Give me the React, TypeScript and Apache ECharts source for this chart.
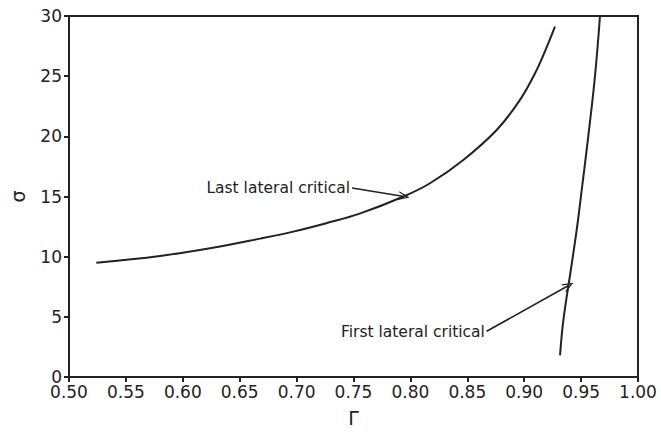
import React, { useEffect, useRef } from "react";
import * as echarts from "echarts";

// Last lateral critical curve (Γ, σ)
const lastGamma = [0.524, 0.58, 0.624, 0.668, 0.697, 0.726, 0.756, 0.794, 0.8172, 0.8465, 0.8758, 0.8963, 0.911, 0.9212, 0.927];
const lastSigma = [9.5, 10.06, 10.7, 11.5, 12.08, 12.78, 13.6, 15.0, 16.1, 18.04, 20.53, 23.03, 25.52, 27.74, 29.12];

// First lateral critical curve (Γ, σ)
const firstGamma = [0.9315, 0.9344, 0.9405, 0.9461, 0.9505, 0.9563, 0.9622, 0.9666];
const firstSigma = [1.8, 4.7, 8.6, 12.2, 15.5, 20.0, 25.0, 30.0];

// Annotation arrows: [startΓ, startσ, tipΓ, tipσ]
const lastArrow = [0.7487, 15.7, 0.7945, 15.0];
const firstArrow = [0.867, 3.8, 0.939, 7.6];

const lastLabel = "Last lateral critical";
const firstLabel = "First lateral critical";

const FONT = "DejaVu Sans";
const INK = "#222";
const chevron = "path://M5,0 L10,10 L8.6,10 L5,2.8 L1.4,10 L0,10 Z";

function arrowMark(a: number[], text: string) {
  return {
    silent: true,
    symbol: ["none", chevron],
    symbolSize: [9, 11],
    lineStyle: { type: "solid", color: INK, width: 1.6 },
    label: {
      show: true,
      position: "start",
      formatter: text,
      fontFamily: FONT,
      fontSize: 15.5,
      color: INK,
      distance: 2,
    },
    emphasis: { disabled: true },
    data: [[{ coord: [a[0], a[1]] }, { coord: [a[2], a[3]] }]],
  };
}

export default function App() {
  const ref = useRef<HTMLDivElement>(null);
  useEffect(() => {
    if (!ref.current) return;
    const chart = echarts.init(ref.current, undefined, { renderer: "svg" });
    chart.setOption({
      animation: false,
      backgroundColor: "#ffffff",
      textStyle: { fontFamily: FONT },
      grid: {
        left: 69,
        right: 23,
        top: 16,
        bottom: 60,
        show: true,
        borderColor: INK,
        borderWidth: 2,
        backgroundColor: "transparent",
      },
      xAxis: {
        type: "value",
        min: 0.5,
        max: 1.0,
        interval: 0.05,
        name: "Γ",
        nameLocation: "middle",
        nameGap: 31,
        nameTextStyle: { fontFamily: FONT, fontSize: 19, color: INK },
        axisLine: { lineStyle: { color: INK, width: 2 } },
        axisTick: { show: true, length: 5, lineStyle: { color: INK, width: 2 } },
        axisLabel: {
          color: INK,
          fontFamily: FONT,
          fontSize: 17,
          margin: 6,
          showMinLabel: true,
          showMaxLabel: true,
          hideOverlap: false,
          formatter: (v: number) => v.toFixed(2),
        },
        splitLine: { show: false },
      },
      yAxis: {
        type: "value",
        min: 0,
        max: 30,
        interval: 5,
        name: "σ",
        nameLocation: "middle",
        nameGap: 42,
        nameRotate: 90,
        nameTextStyle: { fontFamily: FONT, fontSize: 19, color: INK },
        axisLine: { lineStyle: { color: INK, width: 2 } },
        axisTick: { show: true, length: 5, lineStyle: { color: INK, width: 2 } },
        axisLabel: { color: INK, fontFamily: FONT, fontSize: 17, margin: 7 },
        splitLine: { show: false },
      },
      series: [
        {
          type: "line",
          name: lastLabel,
          data: lastGamma.map((g, i) => [g, lastSigma[i]]),
          smooth: 0.4,
          showSymbol: false,
          lineStyle: { color: INK, width: 2 },
          silent: true,
          markLine: arrowMark(lastArrow, lastLabel),
        },
        {
          type: "line",
          name: firstLabel,
          data: firstGamma.map((g, i) => [g, firstSigma[i]]),
          smooth: 0.4,
          showSymbol: false,
          lineStyle: { color: INK, width: 2 },
          silent: true,
          markLine: arrowMark(firstArrow, firstLabel),
        },
      ],
    });
    return () => chart.dispose();
  }, []);
  return (
    <div
      ref={ref}
      style={{ position: "fixed", left: 0, top: 0, width: 661, height: 437 }}
    />
  );
}
